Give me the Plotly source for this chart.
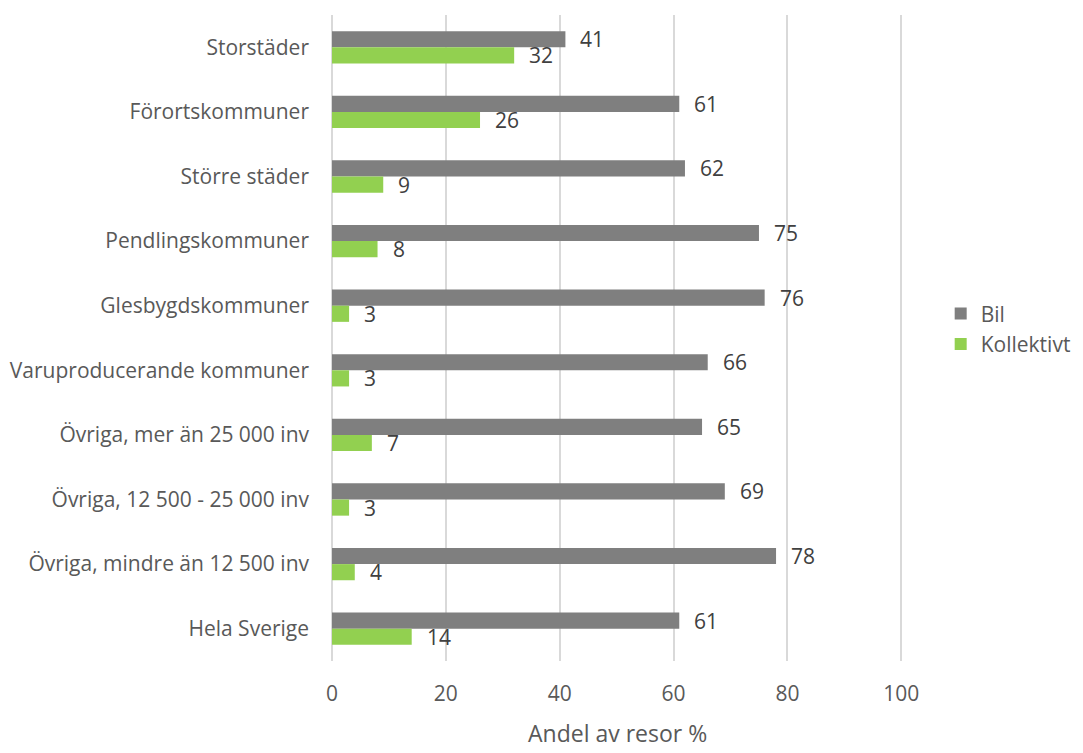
import plotly.graph_objects as go

categories = [
    "Storstäder",
    "Förortskommuner",
    "Större städer",
    "Pendlingskommuner",
    "Glesbygdskommuner",
    "Varuproducerande kommuner",
    "Övriga, mer än 25 000 inv",
    "Övriga, 12 500 - 25 000 inv",
    "Övriga, mindre än 12 500 inv",
    "Hela Sverige",
]
bil = [41, 61, 62, 75, 76, 66, 65, 69, 78, 61]
kollektivt = [32, 26, 9, 8, 3, 3, 7, 3, 4, 14]
x_ticks = [0, 20, 40, 60, 80, 100]
x_title = "Andel av resor %"

TEXT = "#595959"
LABEL = "#404040"
FONT = "Open Sans"
SIZE = 21

fig = go.Figure()
fig.add_trace(go.Bar(name="Bil", y=categories, x=bil, orientation="h",
                     marker=dict(color="#7F7F7F", line=dict(width=0))))
fig.add_trace(go.Bar(name="Kollektivt", y=categories, x=kollektivt, orientation="h",
                     marker=dict(color="#92D050", line=dict(width=0))))

# value labels just right of each bar end
bar_w = 0.25
annotations = []
for i, (b, k) in enumerate(zip(bil, kollektivt)):
    for val, off in ((b, -bar_w / 2), (k, bar_w / 2)):
        annotations.append(dict(
            x=val, y=i + off, xref="x", yref="y", text=str(val),
            showarrow=False, xanchor="left", yanchor="middle", xshift=13,
            font=dict(family=FONT, size=SIZE, color=LABEL),
        ))

# axis title below the tick labels
annotations.append(dict(
    x=0.5, y=-0.14, xref="paper", yref="paper", text=x_title,
    showarrow=False, xanchor="center", yanchor="bottom",
    font=dict(family=FONT, size=23, color=TEXT),
))

fig.update_layout(
    width=1083, height=753,
    margin=dict(l=332, r=180, t=15, b=92, autoexpand=False),
    paper_bgcolor="white", plot_bgcolor="white",
    barmode="group", bargap=0.5, bargroupgap=0,
    font=dict(family=FONT, size=SIZE, color=TEXT),
    annotations=annotations,
    legend=dict(x=1.066, y=0.514, xanchor="left", yanchor="middle",
                xref="paper", yref="paper",
                font=dict(family=FONT, size=SIZE, color=TEXT),
                itemwidth=30, tracegroupgap=8),
    xaxis=dict(range=[0, 100.3], tickvals=x_ticks, showgrid=True,
               gridcolor="#D9D9D9", gridwidth=1.5, zeroline=True,
               zerolinecolor="#D9D9D9", zerolinewidth=1.5, automargin=False,
               tickfont=dict(family=FONT, size=SIZE, color=TEXT),
               ticks="", ticklabelstandoff=18),
    yaxis=dict(autorange="reversed", showgrid=False, ticks="", automargin=False,
               ticklabelstandoff=22,
               tickfont=dict(family=FONT, size=SIZE, color=TEXT)),
)

fig.write_html("out.html")
